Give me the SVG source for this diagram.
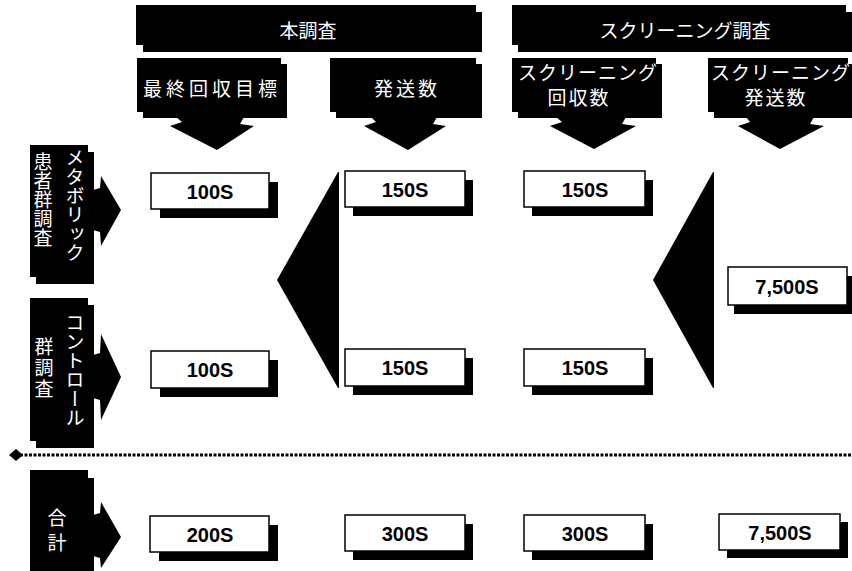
<svg xmlns="http://www.w3.org/2000/svg" width="852" height="571" viewBox="0 0 852 571">
<style>
.b{fill:#000}
.wb{fill:#fff;stroke:#000;stroke-width:1.5}
.val{font-family:"Liberation Sans",Arial,sans-serif;font-weight:bold;font-size:20px;text-anchor:middle;fill:#000}
.jp{font-family:"Noto Sans CJK JP","Noto Sans",sans-serif;fill:#fff;font-size:19px;text-anchor:middle}
.vt{font-family:"Noto Sans CJK JP","Noto Sans",sans-serif;fill:#fff;font-size:19px;writing-mode:vertical-rl}
</style>
<rect width="852" height="571" fill="#fff"/>

<g id="hdr-hon">
<rect class="b" x="143" y="12" width="339" height="40"/>
<rect class="b" x="136" y="5" width="340" height="40"/>
<text class="jp" x="308" y="38" font-size="20">本調査</text>
</g>
<g id="hdr-scr">
<rect class="b" x="518" y="12" width="334" height="40"/>
<rect class="b" x="512" y="5" width="334" height="40"/>
<text class="jp" x="685" y="38" font-size="20">スクリーニング調査</text>
</g>

<g id="sub-saishu">
<rect class="b" x="143" y="64" width="144" height="54"/>
<rect class="b" x="137" y="58" width="144" height="54"/>
<text class="jp" x="212" y="96" letter-spacing="4">最終回収目標</text>
<polygon class="b" points="176,117 244,117 240,124 254,126 217,150 170,126 182,122"/>
</g>
<g id="sub-hasso">
<rect class="b" x="336" y="64" width="146" height="54"/>
<rect class="b" x="330" y="58" width="146" height="54"/>
<text class="jp" x="407" y="96" letter-spacing="3">発送数</text>
<polygon class="b" points="371,117 437,117 433,124 446,126 408,150 364,126 376,122"/>
</g>
<g id="sub-scr-kaishu">
<rect class="b" x="518" y="64" width="144" height="54"/>
<rect class="b" x="512" y="58" width="144" height="54"/>
<text class="jp" x="588" y="80" letter-spacing="1">スクリーニング</text>
<text class="jp" x="579" y="105" letter-spacing="2">回収数</text>
<polygon class="b" points="556,117 626,117 622,124 636,126 594,149 550,126 562,122"/>
</g>
<g id="sub-scr-hasso">
<rect class="b" x="714" y="64" width="138" height="54"/>
<rect class="b" x="708" y="58" width="140" height="54"/>
<text class="jp" x="781" y="80" letter-spacing="1">スクリーニング</text>
<text class="jp" x="776" y="105" letter-spacing="2">発送数</text>
<polygon class="b" points="746,117 814,117 810,124 824,126 780,149 738,126 750,122"/>
</g>

<g id="row-metabo">
<rect class="b" x="36" y="152" width="58" height="132"/>
<rect class="b" x="30" y="145" width="58" height="132"/>
<text class="vt" x="75" y="148">メタボリック</text>
<text class="vt" x="43" y="152">患者群調査</text>
<polygon class="b" points="93,190 100,188 101,176 121,210 101,246 100,232 93,230"/>
</g>
<g id="row-control">
<rect class="b" x="36" y="305" width="58" height="143"/>
<rect class="b" x="30" y="298" width="58" height="143"/>
<text class="vt" x="75" y="313">コントロール</text>
<text class="vt" x="44" y="337" letter-spacing="2" font-size="18">群調査</text>
<polygon class="b" points="93,355 100,353 101,334 121,377 101,420 100,400 93,398"/>
</g>
<g id="row-total">
<rect class="b" x="36" y="478" width="58" height="100"/>
<rect class="b" x="30" y="470" width="58" height="105"/>
<text class="vt" x="57" y="508" letter-spacing="6">合計</text>
<polygon class="b" points="93,515 100,513 101,502 121,537 101,568 100,558 93,556"/>
</g>

<g id="v-100-1"><rect class="b" x="160" y="182" width="118" height="36"/><rect class="wb" x="151" y="173" width="118" height="36"/><text class="val" x="210" y="199">100S</text></g>
<g id="v-100-2"><rect class="b" x="160" y="360" width="118" height="37"/><rect class="wb" x="151" y="351" width="118" height="37"/><text class="val" x="210" y="377">100S</text></g>
<g id="v-150-1"><rect class="b" x="353" y="180" width="120" height="36"/><rect class="wb" x="345" y="171" width="120" height="36"/><text class="val" x="405" y="197">150S</text></g>
<g id="v-150-2"><rect class="b" x="353" y="358" width="120" height="37"/><rect class="wb" x="345" y="349" width="120" height="37"/><text class="val" x="405" y="375">150S</text></g>
<g id="v-150-3"><rect class="b" x="532" y="180" width="121" height="36"/><rect class="wb" x="524" y="171" width="121" height="36"/><text class="val" x="585" y="197">150S</text></g>
<g id="v-150-4"><rect class="b" x="532" y="358" width="121" height="37"/><rect class="wb" x="524" y="349" width="121" height="37"/><text class="val" x="585" y="375">150S</text></g>
<g id="v-7500-1"><rect class="b" x="734" y="276" width="120" height="38"/><rect class="wb" x="728" y="267" width="119" height="38"/><text class="val" x="787" y="294">7,500S</text></g>
<g id="v-200"><rect class="b" x="159" y="525" width="119" height="36"/><rect class="wb" x="150" y="516" width="119" height="36"/><text class="val" x="210" y="542">200S</text></g>
<g id="v-300-1"><rect class="b" x="353" y="524" width="120" height="36"/><rect class="wb" x="345" y="515" width="120" height="36"/><text class="val" x="405" y="541">300S</text></g>
<g id="v-300-2"><rect class="b" x="532" y="524" width="121" height="36"/><rect class="wb" x="524" y="515" width="121" height="36"/><text class="val" x="585" y="541">300S</text></g>
<g id="v-7500-2"><rect class="b" x="727" y="522" width="121" height="36"/><rect class="wb" x="719" y="514" width="121" height="36"/><text class="val" x="780" y="540">7,500S</text></g>

<g id="connectors">
<polygon class="b" points="338,172 339,172 339,388 338,388 277,280"/>
<polygon class="b" points="713,172 714,172 714,388 713,388 653,280"/>
<line x1="20" y1="455" x2="852" y2="455" stroke="#000" stroke-width="3" stroke-dasharray="3 1.5"/>
<polygon class="b" points="9,455 16,449 23,455 16,461"/>
</g>
</svg>
